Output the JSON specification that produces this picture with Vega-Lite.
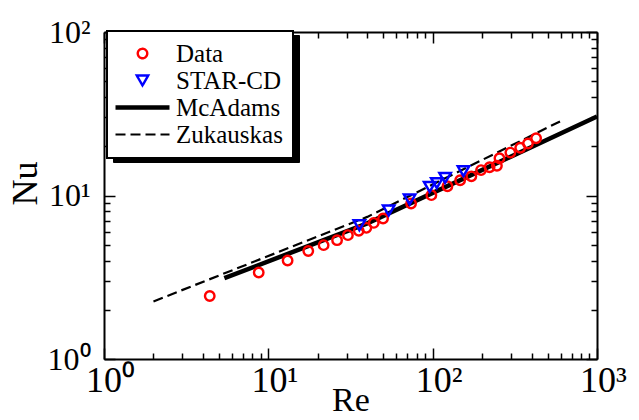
{
  "$schema": "https://vega.github.io/schema/vega-lite/v6.json",
  "width": 493,
  "height": 327,
  "autosize": {"type": "none"},
  "padding": {"left": 104, "top": 32, "right": 42, "bottom": 61},
  "background": "white",
  "config": {"view": {"stroke": null}, "font": "Liberation Serif"},
  "data": {
    "values": [
      {"series": "Data", "Re": 4.40, "Nu": 2.43},
      {"series": "Data", "Re": 8.74, "Nu": 3.38},
      {"series": "Data", "Re": 13.1, "Nu": 4.00},
      {"series": "Data", "Re": 17.5, "Nu": 4.58},
      {"series": "Data", "Re": 21.7, "Nu": 4.97},
      {"series": "Data", "Re": 26.2, "Nu": 5.33},
      {"series": "Data", "Re": 30.5, "Nu": 5.72},
      {"series": "Data", "Re": 35.5, "Nu": 6.08},
      {"series": "Data", "Re": 39.5, "Nu": 6.34},
      {"series": "Data", "Re": 43.8, "Nu": 6.80},
      {"series": "Data", "Re": 49.9, "Nu": 7.24},
      {"series": "Data", "Re": 73.9, "Nu": 8.94},
      {"series": "Data", "Re": 98.2, "Nu": 10.05},
      {"series": "Data", "Re": 123, "Nu": 11.4},
      {"series": "Data", "Re": 147, "Nu": 12.4},
      {"series": "Data", "Re": 172, "Nu": 13.1},
      {"series": "Data", "Re": 197, "Nu": 14.3},
      {"series": "Data", "Re": 222, "Nu": 14.9},
      {"series": "Data", "Re": 246, "Nu": 15.2},
      {"series": "Data", "Re": 255, "Nu": 16.9},
      {"series": "Data", "Re": 297, "Nu": 18.3},
      {"series": "Data", "Re": 341, "Nu": 19.6},
      {"series": "Data", "Re": 380, "Nu": 20.8},
      {"series": "Data", "Re": 426, "Nu": 22.4},
      {"series": "STAR-CD", "Re": 35.8, "Nu": 6.58},
      {"series": "STAR-CD", "Re": 54.0, "Nu": 8.10},
      {"series": "STAR-CD", "Re": 72.4, "Nu": 9.46},
      {"series": "STAR-CD", "Re": 95.9, "Nu": 11.3},
      {"series": "STAR-CD", "Re": 106, "Nu": 11.9},
      {"series": "STAR-CD", "Re": 119, "Nu": 12.8},
      {"series": "STAR-CD", "Re": 154, "Nu": 14.1},
      {"series": "McAdams", "Re": 5.4, "Nu": 3.12},
      {"series": "McAdams", "Re": 40, "Nu": 6.75},
      {"series": "McAdams", "Re": 1000, "Nu": 30.4},
      {"series": "Zukauskas", "Re": 2.0, "Nu": 2.25},
      {"series": "Zukauskas", "Re": 40, "Nu": 7.4},
      {"series": "Zukauskas", "Re": 600, "Nu": 28.5}
    ]
  },
  "layer": [
    {
      "transform": [{"filter": "datum.series === 'McAdams'"}],
      "mark": {"type": "line", "strokeWidth": 4.5, "strokeCap": "butt"},
      "encoding": {
        "x": {
          "field": "Re", "type": "quantitative", "scale": {"type": "log", "domain": [1, 1000], "nice": false},
          "axis": {
            "orient": "top", "offset": -327,
            "values": [1, 2, 3, 4, 5, 6, 7, 8, 9, 10, 20, 30, 40, 50, 60, 70, 80, 90, 100, 200, 300, 400, 500, 600, 700, 800, 900, 1000],
            "labels": false, "title": null, "domain": false, "grid": false,
            "tickSize": {"condition": {"test": "indexof([1, 10, 100, 1000], datum.value) >= 0", "value": 11}, "value": 6},
            "tickColor": "black", "tickWidth": 1.5
          }
        },
        "y": {
          "field": "Nu", "type": "quantitative", "scale": {"type": "log", "domain": [1, 100], "nice": false},
          "axis": {
            "orient": "right", "offset": -493,
            "values": [1, 2, 3, 4, 5, 6, 7, 8, 9, 10, 20, 30, 40, 50, 60, 70, 80, 90, 100],
            "labels": false, "title": null, "domain": false, "grid": false,
            "tickSize": {"condition": {"test": "indexof([1, 10, 100], datum.value) >= 0", "value": 11}, "value": 6},
            "tickColor": "black", "tickWidth": 1.5
          }
        },
        "color": {
          "field": "series", "type": "nominal",
          "scale": {"domain": ["Data", "STAR-CD", "McAdams", "Zukauskas"], "range": ["#ff0000", "#0000ff", "#000000", "#000000"]},
          "legend": {
            "title": null, "orient": "none", "legendX": 3, "legendY": -1, "padding": 10,
            "fillColor": "white", "strokeColor": "black",
            "labelFont": "Liberation Serif", "labelFontSize": 25, "labelColor": "black",
            "labelOffset": 21, "symbolOffset": 13, "symbolSize": 100, "rowPadding": 1, "zindex": 2,
            "encode": {
              "legend": {"update": {"strokeWidth": {"value": 2}}},
              "symbols": {
                "update": {
                  "shape": {"signal": "datum.value === 'Data' ? 'circle' : datum.value === 'STAR-CD' ? 'triangle-down' : 'M-5.4,0L5.4,0'"},
                  "size": {"signal": "datum.value === 'Data' ? 90 : datum.value === 'STAR-CD' ? 130 : 100"},
                  "strokeWidth": {"signal": "datum.value === 'McAdams' ? 4.5 : datum.value === 'Zukauskas' ? 2.2 : 2.4"},
                  "strokeDash": {"signal": "datum.value === 'Zukauskas' ? [10, 5] : [1, 0]"},
                  "fill": {"value": "transparent"},
                  "opacity": {"value": 1}
                }
              }
            }
          }
        }
      }
    },
    {
      "transform": [{"filter": "datum.series === 'Zukauskas'"}],
      "mark": {"type": "line", "strokeWidth": 2.2, "strokeDash": [10, 5]},
      "encoding": {
        "x": {
          "field": "Re", "type": "quantitative", "scale": {"type": "log", "domain": [1, 1000], "nice": false},
          "axis": {
            "orient": "bottom", "offset": -327,
            "values": [1, 2, 3, 4, 5, 6, 7, 8, 9, 10, 20, 30, 40, 50, 60, 70, 80, 90, 100, 200, 300, 400, 500, 600, 700, 800, 900, 1000],
            "labels": false, "title": null, "domain": true, "domainColor": "black", "domainWidth": 2, "grid": false,
            "tickSize": {"condition": {"test": "indexof([1, 10, 100, 1000], datum.value) >= 0", "value": 11}, "value": 6},
            "tickColor": "black", "tickWidth": 1.5
          }
        },
        "y": {
          "field": "Nu", "type": "quantitative", "scale": {"type": "log", "domain": [1, 100], "nice": false},
          "axis": {
            "orient": "left", "offset": -493,
            "values": [1, 2, 3, 4, 5, 6, 7, 8, 9, 10, 20, 30, 40, 50, 60, 70, 80, 90, 100],
            "labels": false, "title": null, "domain": true, "domainColor": "black", "domainWidth": 2, "grid": false,
            "tickSize": {"condition": {"test": "indexof([1, 10, 100], datum.value) >= 0", "value": 11}, "value": 6},
            "tickColor": "black", "tickWidth": 1.5
          }
        },
        "color": {"field": "series", "type": "nominal", "scale": {"domain": ["Data", "STAR-CD", "McAdams", "Zukauskas"], "range": ["#ff0000", "#0000ff", "#000000", "#000000"]}}
      }
    },
    {
      "transform": [{"filter": "datum.series === 'Data'"}],
      "mark": {"type": "point", "filled": false, "size": 90, "strokeWidth": 2.4, "opacity": 1},
      "encoding": {
        "x": {
          "field": "Re", "type": "quantitative", "scale": {"type": "log", "domain": [1, 1000], "nice": false},
          "axis": {
            "orient": "bottom",
            "values": [1, 10, 100, 1000],
            "labelExpr": "datum.value == 1 ? '10\u2070' : datum.value == 10 ? '10\u00b9' : datum.value == 100 ? '10\u00b2' : '10\u00b3'",
            "ticks": false, "domainColor": "black", "domainWidth": 2, "grid": false,
            "labelFont": "Liberation Serif", "labelFontSize": 36, "labelColor": "black", "labelPadding": 4,
            "labelBaseline": "top", "labelOffset": 6,
            "labelOverlap": false, "labelFlush": false, "labelBound": false,
            "title": "Re", "titleFont": "Liberation Serif", "titleFontSize": 34, "titleFontWeight": "normal", "titleColor": "black",
            "titleY": 51, "titleBaseline": "alphabetic"
          }
        },
        "y": {
          "field": "Nu", "type": "quantitative", "scale": {"type": "log", "domain": [1, 100], "nice": false},
          "axis": {
            "orient": "left",
            "values": [1, 10, 100],
            "labelExpr": "datum.value == 1 ? '10\u2070' : datum.value == 10 ? '10\u00b9' : '10\u00b2'",
            "ticks": false, "domainColor": "black", "domainWidth": 2, "grid": false,
            "labelFont": "Liberation Serif", "labelFontSize": 32, "labelColor": "black", "labelPadding": 14,
            "labelOverlap": false, "labelFlush": false, "labelBound": false, "labelBaseline": "middle",
            "title": "Nu", "titleFont": "Liberation Serif", "titleFontSize": 36, "titleFontWeight": "normal", "titleColor": "black",
            "titleX": -79, "titleY": 151, "titleAngle": -90, "titleBaseline": "middle", "titleAlign": "center"
          }
        },
        "color": {"field": "series", "type": "nominal", "scale": {"domain": ["Data", "STAR-CD", "McAdams", "Zukauskas"], "range": ["#ff0000", "#0000ff", "#000000", "#000000"]}},
        "shape": {
          "field": "series", "type": "nominal",
          "scale": {"domain": ["Zukauskas", "McAdams", "STAR-CD", "Data"], "range": ["circle", "circle", "triangle-down", "circle"]},
          "legend": {
            "title": null, "orient": "none", "legendX": 9, "legendY": 3, "padding": 10,
            "fillColor": "black", "strokeColor": "black",
            "labelFont": "Liberation Serif", "labelFontSize": 25, "labelColor": "black",
            "labelOffset": 21, "symbolOffset": 13, "symbolSize": 100, "rowPadding": 1, "zindex": 1,
            "symbolStrokeColor": "black", "symbolFillColor": "black"
          }
        }
      }
    },
    {
      "transform": [{"filter": "datum.series === 'STAR-CD'"}],
      "mark": {"type": "point", "filled": false, "size": 130, "strokeWidth": 2.5, "opacity": 1},
      "encoding": {
        "x": {"field": "Re", "type": "quantitative", "scale": {"type": "log", "domain": [1, 1000], "nice": false}, "axis": null},
        "y": {"field": "Nu", "type": "quantitative", "scale": {"type": "log", "domain": [1, 100], "nice": false}, "axis": null},
        "color": {"field": "series", "type": "nominal", "scale": {"domain": ["Data", "STAR-CD", "McAdams", "Zukauskas"], "range": ["#ff0000", "#0000ff", "#000000", "#000000"]}},
        "shape": {"field": "series", "type": "nominal", "scale": {"domain": ["Zukauskas", "McAdams", "STAR-CD", "Data"], "range": ["circle", "circle", "triangle-down", "circle"]}}
      }
    }
  ],
  "resolve": {"axis": {"x": "independent", "y": "independent"}}
}
